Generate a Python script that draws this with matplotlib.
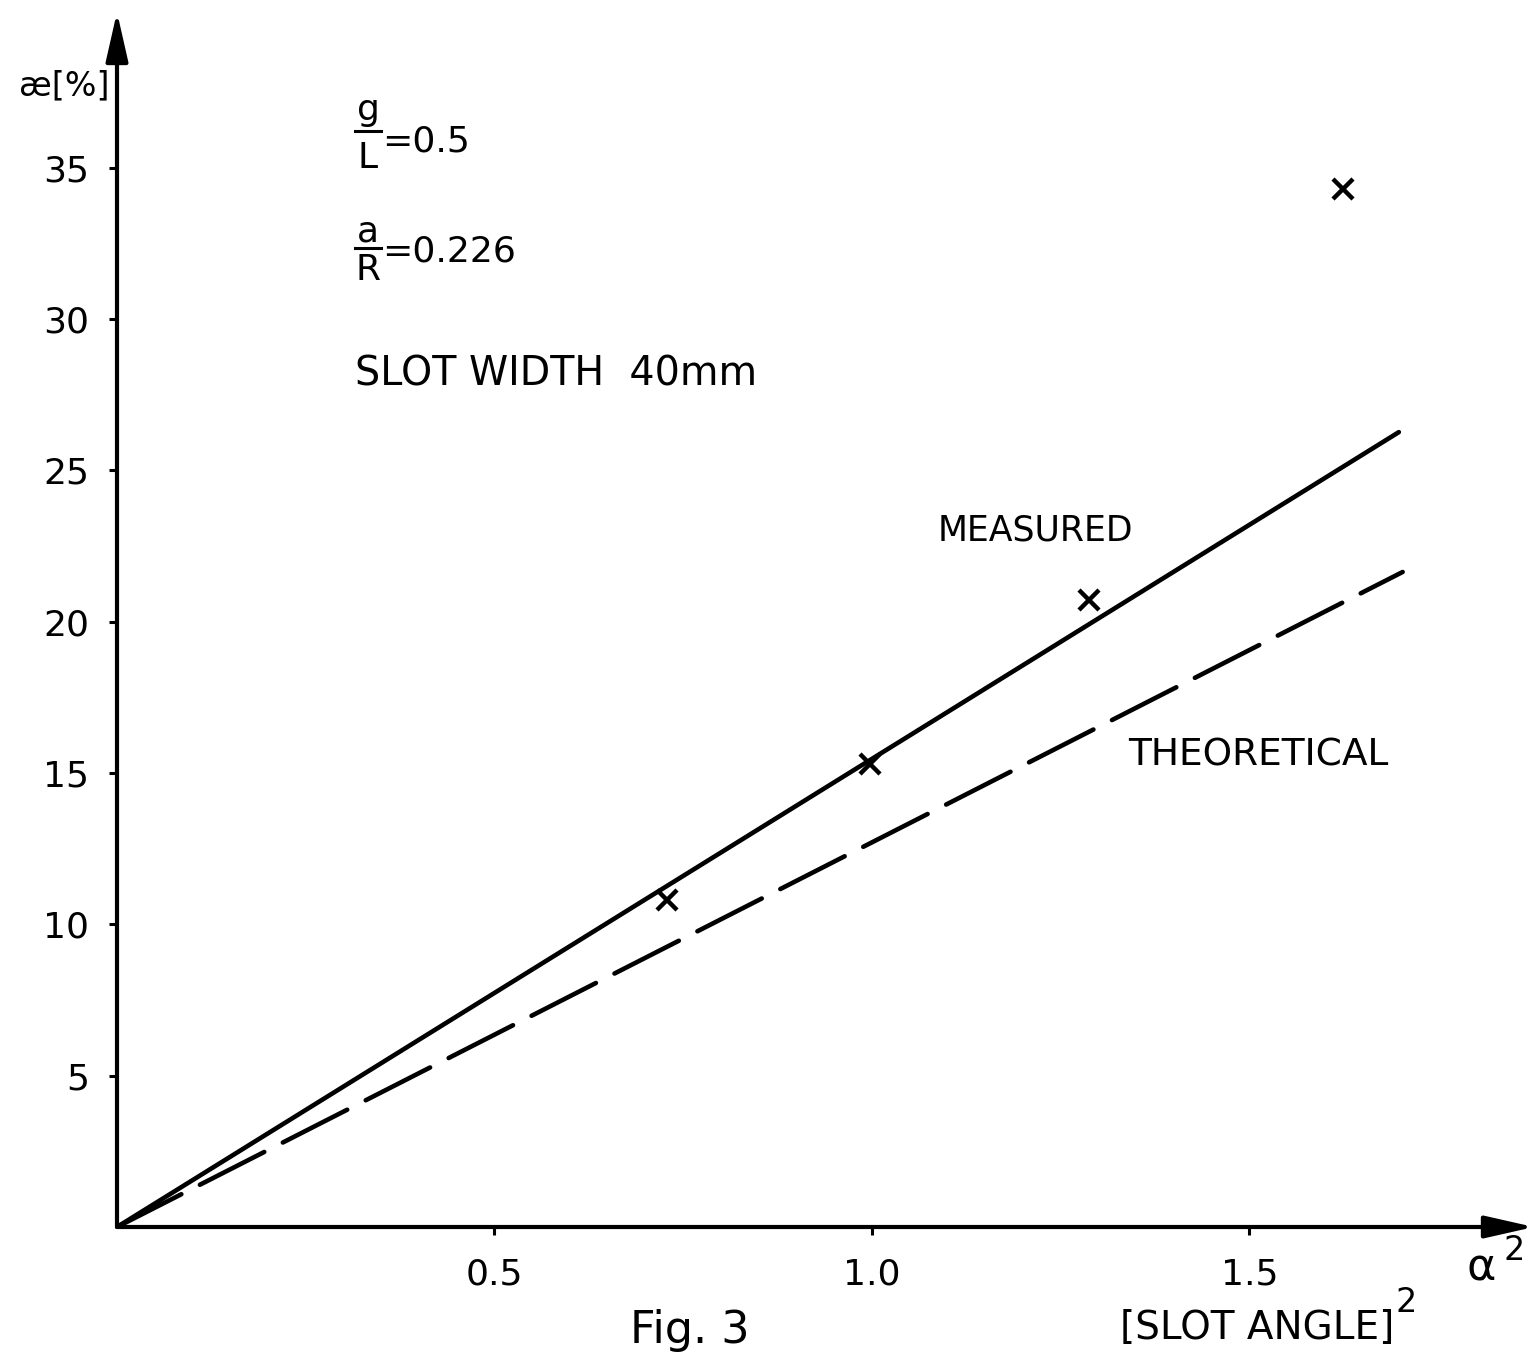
import matplotlib
matplotlib.use("Agg")
import matplotlib.pyplot as plt

plt.rcParams['font.family'] = ['DejaVu Sans']
plt.rcParams['lines.scale_dashes'] = False

# values
alpha_sq_measured = [0.729, 0.998, 1.287, 1.624]   # crosses
kappa_measured = [10.8, 15.3, 20.7, 34.3]
alpha_sq_fit = [0.0, 1.698]                        # solid "MEASURED" line
kappa_fit = [0.0, 26.26]
alpha_sq_theory = [0.0, 1.703]                     # dashed "THEORETICAL" line
kappa_theory = [0.0, 21.64]

x_ticks = [0.5, 1.0, 1.5]
x_tick_labels = ["0.5", "1.0", "1.5"]
y_ticks = [5, 10, 15, 20, 25, 30, 35]
y_tick_labels = ["5", "10", "15", "20", "25", "30", "35"]

W, H = 1534, 1358
fig = plt.figure(figsize=(W / 100, H / 100), dpi=100)
ax = fig.add_axes([117 / W, 131 / H, 1417 / W, 1215 / H])
ax.set_xlim(0, 1.877)
ax.set_ylim(0, 40.14)
for s in ax.spines.values():
    s.set_visible(False)


def px(x, y):
    # pixel position in the picture -> figure fraction
    return x / W, 1 - y / H


# axes drawn as arrows
arrow = dict(arrowstyle='-|>,head_length=0.75,head_width=0.17', lw=3, color='black',
             mutation_scale=40, shrinkA=0, shrinkB=0)
ax.annotate('', xy=(1.877, 0), xytext=(0, 0), arrowprops=arrow, annotation_clip=False)
ax.annotate('', xy=(0, 40.14), xytext=(0, 0), arrowprops=arrow, annotation_clip=False)

ax.set_xticks(x_ticks)
ax.set_xticklabels(x_tick_labels)
ax.set_yticks(y_ticks)
ax.set_yticklabels(y_tick_labels)
ax.tick_params(axis='x', direction='out', length=6, width=2.2, pad=16, labelsize=26)
ax.tick_params(axis='y', direction='out', length=6, width=2.2, pad=14, labelsize=26)

# lines and measured points
ax.plot(alpha_sq_fit, kappa_fit, color='black', lw=3.3, solid_capstyle='round')
ax.plot(alpha_sq_theory, kappa_theory, color='black', lw=3.3,
        linestyle=(0, (52, 15)), dash_capstyle='round')
ax.plot(alpha_sq_measured, kappa_measured, linestyle='none', marker='x',
        color='black', markersize=14, markeredgewidth=3.2)

# labels
fig.text(*px(64, 86), 'æ[%]', ha='center', va='center', fontsize=24)

fig.text(*px(368, 110), 'g', ha='center', va='center', fontsize=26)
fig.add_artist(plt.Line2D([355 / W, 381 / W], [1 - 131 / H, 1 - 131 / H],
                          color='black', lw=2.2))
fig.text(*px(368, 158), 'L', ha='center', va='center', fontsize=26)
fig.text(*px(382, 141), '=0.5', ha='left', va='center', fontsize=26)

fig.text(*px(368, 231), 'a', ha='center', va='center', fontsize=26)
fig.add_artist(plt.Line2D([355 / W, 381 / W], [1 - 248 / H, 1 - 248 / H],
                          color='black', lw=2.2))
fig.text(*px(368, 270), 'R', ha='center', va='center', fontsize=26)
fig.text(*px(382, 252), '=0.226', ha='left', va='center', fontsize=26)

fig.text(*px(355, 375), 'SLOT WIDTH  40mm', ha='left', va='center', fontsize=28.5)
fig.text(*px(938, 531), 'MEASURED', ha='left', va='center', fontsize=25)
fig.text(*px(1128, 755), 'THEORETICAL', ha='left', va='center', fontsize=27)

fig.text(*px(1481, 1268), 'α', ha='center', va='center', fontsize=32)
fig.text(*px(1514, 1250), '2', ha='center', va='center', fontsize=24)
fig.text(*px(1120, 1328), '[SLOT ANGLE]', ha='left', va='center', fontsize=28)
fig.text(*px(1406, 1302), '2', ha='center', va='center', fontsize=24)

fig.text(*px(630, 1330), 'Fig. 3', ha='left', va='center', fontsize=32)

fig.savefig('out.png', dpi=100, facecolor='white')
